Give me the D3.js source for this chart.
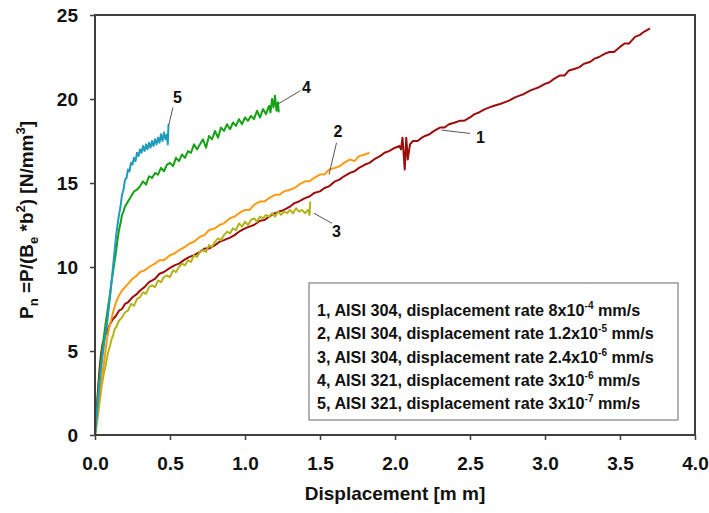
<!DOCTYPE html>
<html>
<head>
<meta charset="utf-8">
<script src="https://cdn.jsdelivr.net/npm/d3@7"></script>
<style>
  body { margin: 0; background: #fff; }
  svg { display: block; font-family: "Liberation Sans", Arial, sans-serif; }
  .axis text { font-size: 19px; font-weight: bold; fill: #111; }
  .axis line { stroke: #404040; stroke-width: 1.5; }
  .curve { fill: none; stroke-width: 2; stroke-linejoin: round; }
</style>
</head>
<body>
<svg width="709" height="513"></svg>
<script>
// displacement [mm], Pn [N/mm3]
var curve1 = [[0,0],[0.01,1.3],[0.02,2.7],[0.03,3.9],[0.04,4.8],[0.05,5.4],[0.06,5.7],[0.07,6.0],[0.08,6.1],[0.09,6.4],
  [0.1,6.6],[0.12,6.9],[0.14,7.1],[0.16,7.4],[0.18,7.5],[0.2,7.8],[0.22,7.9],[0.25,8.2],[0.28,8.4],[0.3,8.6],
  [0.33,8.8],[0.36,9.1],[0.4,9.3],[0.43,9.6],[0.46,9.7],[0.5,9.95],[0.53,10.1],[0.56,10.2],[0.6,10.45],[0.63,10.6],
  [0.66,10.7],[0.7,10.9],[0.73,11.1],[0.76,11.1],[0.8,11.3],[0.83,11.5],[0.86,11.6],[0.9,11.75],[0.93,11.9],[0.96,12.1],
  [1.0,12.3],[1.03,12.4],[1.06,12.5],[1.1,12.75],[1.13,12.8],[1.16,13.0],[1.2,13.2],[1.23,13.3],[1.26,13.4],[1.3,13.6],
  [1.33,13.8],[1.36,13.9],[1.4,14.1],[1.43,14.2],[1.46,14.4],[1.5,14.5],[1.53,14.7],[1.56,14.8],[1.6,15.1],[1.63,15.2],
  [1.66,15.4],[1.7,15.6],[1.73,15.7],[1.76,15.9],[1.8,16.1],[1.83,16.2],[1.86,16.4],[1.9,16.6],[1.93,16.8],[1.96,16.9],
  [2.0,17.1],[2.03,17.2],[2.04,17.0],[2.05,17.7],[2.065,15.8],[2.075,17.7],[2.085,16.4],[2.1,17.3],[2.12,17.5],[2.15,17.5],
  [2.18,17.7],[2.2,17.8],[2.23,17.9],[2.26,18.1],[2.3,18.3],[2.33,18.3],[2.36,18.5],[2.4,18.6],[2.43,18.7],[2.46,18.7],
  [2.5,18.9],[2.53,19.1],[2.56,19.2],[2.6,19.4],[2.63,19.5],[2.66,19.6],[2.7,19.7],[2.73,19.8],[2.76,19.9],[2.8,20.1],
  [2.83,20.2],[2.86,20.3],[2.9,20.5],[2.93,20.6],[2.96,20.7],[3.0,20.9],[3.03,21.0],[3.06,21.2],[3.1,21.4],[3.13,21.4],
  [3.16,21.7],[3.2,21.8],[3.23,21.9],[3.26,22.1],[3.3,22.2],[3.33,22.4],[3.36,22.5],[3.4,22.7],[3.43,22.8],[3.46,22.8],
  [3.5,23.1],[3.53,23.3],[3.56,23.3],[3.6,23.7],[3.63,23.8],[3.66,24.0],[3.7,24.2]];

var curve2 = [[0,0],[0.01,0.8],[0.02,1.6],[0.03,2.3],[0.04,3.0],[0.05,3.6],[0.06,4.3],[0.07,5.0],[0.08,5.7],[0.09,6.2],
  [0.1,6.6],[0.11,6.9],[0.12,7.3],[0.13,7.6],[0.14,7.9],[0.16,8.3],[0.18,8.6],[0.2,8.8],[0.22,9.0],[0.25,9.3],
  [0.28,9.5],[0.3,9.7],[0.33,9.8],[0.36,10.0],[0.4,10.2],[0.43,10.4],[0.46,10.4],[0.5,10.7],[0.53,10.8],[0.56,11.0],
  [0.6,11.2],[0.63,11.4],[0.66,11.5],[0.7,11.8],[0.73,11.9],[0.76,12.2],[0.8,12.3],[0.83,12.5],[0.86,12.6],[0.9,12.9],
  [0.93,13.0],[0.96,13.2],[1.0,13.4],[1.03,13.4],[1.06,13.7],[1.1,13.9],[1.13,13.9],[1.16,14.1],[1.2,14.3],[1.23,14.3],
  [1.26,14.5],[1.3,14.6],[1.33,14.7],[1.36,14.9],[1.4,15.1],[1.43,15.1],[1.46,15.3],[1.5,15.5],[1.53,15.5],[1.56,15.8],
  [1.6,15.9],[1.63,16.0],[1.66,16.2],[1.7,16.4],[1.73,16.3],[1.76,16.6],[1.8,16.7],[1.83,16.8]];

var curve3 = [[0,0],[0.01,0.5],[0.02,1.2],[0.03,1.9],[0.04,2.6],[0.05,3.2],[0.06,3.7],[0.07,4.1],[0.08,4.6],[0.09,5.0],
  [0.1,5.3],[0.11,5.7],[0.12,5.9],[0.13,6.3],[0.14,6.4],[0.16,6.8],[0.18,7.0],[0.2,7.3],[0.22,7.4],[0.24,7.8],
  [0.26,7.7],[0.28,8.1],[0.3,8.2],[0.32,8.5],[0.34,8.4],[0.36,8.8],[0.38,8.9],[0.4,8.8],[0.42,9.2],[0.44,9.1],
  [0.46,9.4],[0.48,9.5],[0.5,9.4],[0.52,9.8],[0.54,9.7],[0.56,10.0],[0.58,10.2],[0.6,10.1],[0.62,10.4],[0.64,10.3],
  [0.66,10.7],[0.68,10.6],[0.7,10.9],[0.72,11.0],[0.74,10.9],[0.76,11.3],[0.78,11.2],[0.8,11.5],[0.82,11.7],[0.84,11.6],
  [0.86,11.9],[0.88,12.1],[0.9,12.0],[0.92,12.3],[0.94,12.2],[0.96,12.6],[0.98,12.4],[1.0,12.7],[1.02,12.5],[1.04,12.8],
  [1.06,12.9],[1.08,12.7],[1.1,13.0],[1.12,12.9],[1.14,13.1],[1.16,13.0],[1.18,13.2],[1.2,13.0],[1.22,13.3],[1.24,13.1],
  [1.26,13.3],[1.28,13.2],[1.3,13.4],[1.32,13.2],[1.34,13.5],[1.36,13.3],[1.38,13.4],[1.4,13.2],[1.42,13.4],[1.43,13.1],
  [1.435,13.9]];

var curve4 = [[0,0],[0.01,1.2],[0.02,2.4],[0.03,3.5],[0.04,4.4],[0.05,5.2],[0.06,5.9],[0.07,6.6],[0.08,7.2],[0.09,7.8],
  [0.1,8.4],[0.11,9.1],[0.12,9.7],[0.13,10.3],[0.14,10.9],[0.15,11.6],[0.16,12.2],[0.17,12.6],[0.18,13.1],[0.19,13.3],
  [0.2,13.6],[0.22,13.9],[0.24,14.2],[0.26,14.5],[0.28,14.6],[0.3,14.8],[0.32,15.1],[0.34,14.9],[0.36,15.4],[0.38,15.3],
  [0.4,15.6],[0.42,15.5],[0.44,15.9],[0.46,15.7],[0.48,16.1],[0.5,16.2],[0.52,16.0],[0.54,16.5],[0.56,16.3],[0.58,16.7],
  [0.6,16.5],[0.62,16.9],[0.64,16.8],[0.66,17.3],[0.68,17.0],[0.7,17.3],[0.72,17.6],[0.74,17.1],[0.76,17.8],[0.78,17.6],
  [0.8,18.1],[0.82,17.7],[0.84,18.3],[0.86,18.1],[0.88,18.5],[0.9,18.2],[0.92,18.6],[0.94,18.4],[0.96,18.8],[0.98,18.5],
  [1.0,18.9],[1.02,18.7],[1.04,19.0],[1.06,18.8],[1.08,19.3],[1.1,18.9],[1.12,19.4],[1.14,19.1],[1.16,19.6],[1.17,19.2],
  [1.18,20.0],[1.19,19.5],[1.2,20.2],[1.21,19.3],[1.22,19.8],[1.225,19.2]];

var curve5 = [[0,0],[0.01,1.0],[0.02,2.0],[0.03,3.0],[0.04,3.9],[0.05,4.7],[0.06,5.4],[0.07,6.0],[0.08,6.6],[0.09,7.4],
  [0.1,8.2],[0.11,9.1],[0.12,10.0],[0.13,10.9],[0.14,11.8],[0.15,12.5],[0.16,13.1],[0.17,13.6],[0.18,14.3],[0.19,14.6],
  [0.2,15.2],[0.21,15.3],[0.22,15.8],[0.23,15.7],[0.24,16.2],[0.25,16.1],[0.26,16.5],[0.27,16.3],[0.28,16.8],[0.29,16.6],
  [0.3,17.0],[0.31,16.8],[0.32,17.2],[0.33,16.9],[0.34,17.3],[0.35,17.0],[0.36,17.4],[0.37,17.1],[0.38,17.5],[0.39,17.2],
  [0.4,17.6],[0.41,17.3],[0.42,17.7],[0.43,17.4],[0.44,17.9],[0.45,17.5],[0.46,18.0],[0.47,17.6],[0.48,17.9],[0.485,17.3],
  [0.49,18.5]];

var curveNames = ["1", "2", "3", "4", "5"];
var curveColors = ["#9b0d0d", "#ff9a10", "#b3b41a", "#16a016", "#1f9cbc"];
// label anchor [x, y] in data units and where the leader touches the curve
var labelAt = [[2.57, 17.7], [1.62, 18.1], [1.61, 12.1], [1.41, 20.7], [0.55, 20.1]];
var leaderFrom = [[2.5, 17.95], [1.61, 17.4], [1.58, 12.6], [1.37, 20.5], [0.52, 19.5]];
var leaderTo = [[2.31, 18.15], [1.56, 15.5], [1.46, 13.2], [1.22, 19.7], [0.49, 18.4]];

var xTicks = [0, 0.5, 1.0, 1.5, 2.0, 2.5, 3.0, 3.5, 4.0];
var yTicks = [0, 5, 10, 15, 20, 25];

var legendRows = [
  ["1, AISI 304, displacement rate 8x10", "-4", " mm/s"],
  ["2, AISI 304, displacement rate 1.2x10", "-5", " mm/s"],
  ["3, AISI 304, displacement rate 2.4x10", "-6", " mm/s"],
  ["4, AISI 321, displacement rate 3x10", "-6", " mm/s"],
  ["5, AISI 321, displacement rate 3x10", "-7", " mm/s"]
];

var svg = d3.select("svg"),
    margin = {top: 15, right: 14, bottom: 78, left: 95},
    width = +svg.attr("width") - margin.left - margin.right,
    height = +svg.attr("height") - margin.top - margin.bottom;

var x = d3.scaleLinear().domain([0, 4]).range([0, width]),
    y = d3.scaleLinear().domain([0, 25]).range([height, 0]);

var g = svg.append("g")
    .attr("transform", "translate(" + margin.left + "," + margin.top + ")");

g.append("g")
    .attr("class", "axis")
    .attr("transform", "translate(0," + height + ")")
    .call(d3.axisBottom(x).tickValues(xTicks).tickFormat(d3.format(".1f"))
      .tickSize(5).tickSizeOuter(0).tickPadding(17))
    .call(function(s) { s.select(".domain").remove(); });

g.append("g")
    .attr("class", "axis")
    .call(d3.axisLeft(y).tickValues(yTicks).tickSize(5).tickSizeOuter(0).tickPadding(12))
    .call(function(s) { s.select(".domain").remove(); });

var line = d3.line()
    .x(function(d) { return x(d[0]); })
    .y(function(d) { return y(d[1]); });

var curves = [curve1, curve2, curve3, curve4, curve5];

// draw order: 1 at the back, small-displacement curves on top
[0, 2, 1, 3, 4].forEach(function(i) {
  g.append("path")
      .datum(curves[i])
      .attr("class", "curve")
      .attr("stroke", curveColors[i])
      .attr("d", line);
});

g.append("rect")
    .attr("width", width)
    .attr("height", height)
    .attr("fill", "none")
    .attr("stroke", "#404040")
    .attr("stroke-width", 2);

// curve numbers with leader lines
g.selectAll(".leader")
  .data(curveNames)
  .enter().append("line")
    .attr("class", "leader")
    .attr("x1", function(d, i) { return x(leaderFrom[i][0]); })
    .attr("y1", function(d, i) { return y(leaderFrom[i][1]); })
    .attr("x2", function(d, i) { return x(leaderTo[i][0]); })
    .attr("y2", function(d, i) { return y(leaderTo[i][1]); })
    .attr("stroke", "#555")
    .attr("stroke-width", 1);

g.selectAll(".num")
  .data(curveNames)
  .enter().append("text")
    .attr("class", "num")
    .attr("x", function(d, i) { return x(labelAt[i][0]); })
    .attr("y", function(d, i) { return y(labelAt[i][1]); })
    .attr("dy", "0.36em")
    .attr("text-anchor", "middle")
    .style("font-size", "16px")
    .style("font-weight", "bold")
    .attr("fill", "#111")
    .text(function(d) { return d; });

// legend
var legend = svg.append("g").attr("transform", "translate(309,283)");

legend.append("rect")
    .attr("width", 369)
    .attr("height", 137)
    .attr("fill", "#fff")
    .attr("stroke", "#8a8a8a")
    .attr("stroke-width", 1.3);

var rows = legend.selectAll(".row")
  .data(legendRows)
  .enter().append("text")
    .attr("class", "row")
    .attr("x", 8)
    .attr("y", function(d, i) { return 33 + i * 23.3; })
    .style("font-size", "16.2px")
    .style("font-weight", "bold")
    .attr("fill", "#111");

rows.append("tspan").text(function(d) { return d[0]; });
rows.append("tspan")
    .attr("dy", -7)
    .style("font-size", "10px")
    .text(function(d) { return d[1]; });
rows.append("tspan")
    .attr("dy", 7)
    .text(function(d) { return d[2]; });

// axis titles
svg.append("text")
    .attr("x", margin.left + width / 2)
    .attr("y", 500)
    .attr("text-anchor", "middle")
    .style("font-size", "19px")
    .style("font-weight", "bold")
    .attr("fill", "#111")
    .text("Displacement [m m]");

var yTitle = svg.append("text")
    .attr("transform", "translate(33," + (margin.top + height / 2 - 5) + ") rotate(-90)")
    .attr("text-anchor", "middle")
    .style("font-size", "19px")
    .style("font-weight", "bold")
    .attr("fill", "#111");

yTitle.append("tspan").text("P");
yTitle.append("tspan").attr("dy", 5).style("font-size", "13px").text("n");
yTitle.append("tspan").attr("dy", -5).text(" =P/(B");
yTitle.append("tspan").attr("dy", 5).style("font-size", "13px").text("e");
yTitle.append("tspan").attr("dy", -5).text(" *b");
yTitle.append("tspan").attr("dy", -8).style("font-size", "13px").text("2");
yTitle.append("tspan").attr("dy", 8).text(") [N/mm");
yTitle.append("tspan").attr("dy", -8).style("font-size", "13px").text("3");
yTitle.append("tspan").attr("dy", 8).text("]");
</script>
</body>
</html>
